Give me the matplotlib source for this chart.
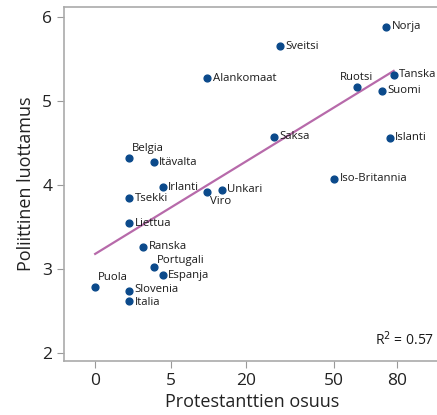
import numpy as np
import matplotlib.pyplot as plt

countries = ["Norja", "Sveitsi", "Alankomaat", "Ruotsi", "Tanska", "Suomi", "Saksa",
             "Islanti", "Iso-Britannia", "Unkari", "Viro", "Belgia", "Itävalta",
             "Irlanti", "Tsekki", "Liettua", "Ranska", "Portugali", "Espanja",
             "Puola", "Slovenia", "Italia"]
protestants = [74, 30, 11, 60, 78, 72, 28, 76, 50, 14, 11, 1, 3, 4, 1, 1, 2, 3, 4, 0, 1, 1]
trust = [5.88, 5.65, 5.27, 5.16, 5.31, 5.12, 4.57, 4.56, 4.07, 3.94, 3.91, 4.32, 4.27,
         3.97, 3.84, 3.54, 3.26, 3.02, 2.92, 2.78, 2.74, 2.61]
x_ticks = [0, 5, 20, 50, 80]
y_ticks = [2, 3, 4, 5, 6]
r2_text = "R$^2$ = 0.57"

# label placement: (dx points, dy points, ha, va)
offsets = {"Ruotsi": (0, 3, "center", "bottom"), "Belgia": (2, 3, "left", "bottom"),
           "Puola": (2, 3, "left", "bottom"), "Portugali": (2, 1, "left", "bottom"),
           "Viro": (2, -3, "left", "top"), "Slovenia": (4, 0.8, "left", "center"),
           "Italia": (4, -0.8, "left", "center")}

plt.rcParams['font.family'] = ['Open Sans', 'DejaVu Sans']


def fwd(v):
    v = np.asarray(v, dtype=float)
    return np.sign(v) * np.sqrt(np.abs(v))


def inv(v):
    v = np.asarray(v, dtype=float)
    return np.sign(v) * v ** 2


fig = plt.figure(figsize=(4.37, 4.15), dpi=100)
ax = fig.add_axes([0.1465, 0.130, 0.86, 0.854])
ax.set_xscale('function', functions=(fwd, inv))

# regression in sqrt space
xs = np.sqrt(np.array(protestants, dtype=float))
b, a = np.polyfit(xs, trust, 1)
line_x = np.linspace(0, max(xs), 50)
ax.plot(line_x ** 2, a + b * line_x, color='#b76aaa', lw=1.6, zorder=2)

ax.scatter(protestants, trust, s=24, color='#0b4a8b', zorder=3)
for name, px, py in zip(countries, protestants, trust):
    dx, dy, ha, va = offsets.get(name, (4, 0, "left", "center"))
    ax.annotate(name, (px, py), xytext=(dx, dy), textcoords='offset points',
                ha=ha, va=va, fontsize=8.2, color='#1a1a1a')

ax.text(0.985, 0.035, r2_text, transform=ax.transAxes, ha='right', va='bottom',
        fontsize=10, color='#1a1a1a')

ax.set_xlim(-0.85, 104)
ax.set_ylim(1.9, 6.12)
ax.set_xticks(x_ticks)
ax.set_xticklabels([str(t) for t in x_ticks])
ax.set_yticks(y_ticks)
ax.tick_params(direction='out', length=5, color='#999999', labelsize=12.5,
               labelcolor='#222222')
for s in ax.spines.values():
    s.set_color('#aaaaaa')
    s.set_linewidth(1.2)
ax.spines['right'].set_visible(False)

ax.set_xlabel('Protestanttien osuus', fontsize=13, color='#222222', labelpad=3)
ax.set_ylabel('Poliittinen luottamus', fontsize=13, color='#222222', labelpad=5)

fig.savefig('out.png', dpi=100)
